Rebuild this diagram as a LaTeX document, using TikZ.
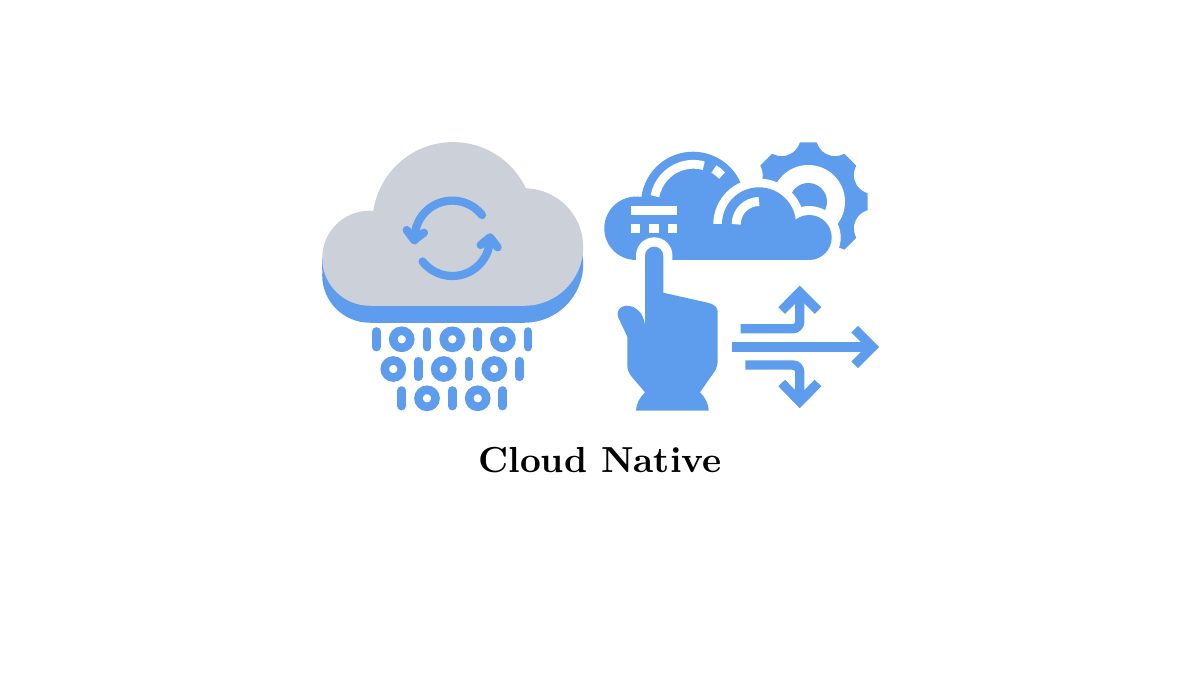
\documentclass[tikz,border=0pt]{standalone}
\usepackage{tikz}
\usetikzlibrary{arrows.meta}
\definecolor{iconblue}{RGB}{94,157,238}
\definecolor{cloudgray}{RGB}{204,208,217}
\tikzset{
    % round bits of the binary rain and the sync arrows
    bitbar/.style={
        line width=8.6pt,
        iconblue,
        line cap=round
    },
    bitring/.style={
        line width=8.6pt,
        iconblue
    },
    syncline/.style={
        line width=8.2pt,
        iconblue,
        line cap=round,
        line join=round
    },
    % flow arrows next to the hand
    flowline/.style={
        line width=9.4pt,
        iconblue,
        rounded corners=7pt
    },
    flowhead/.style={
        line width=9.4pt,
        iconblue,
        line join=miter
    },
    cutline/.style={
        line width=8.8pt,
        white
    }
}
\begin{document}
\begin{tikzpicture}[x=1pt,y=-1pt]
   \useasboundingbox (0,0) rectangle (1200,675);
   \fill[white] (0,0) rectangle (1200,675);
   % left cloud, blue edge first
   \fill[iconblue] (369.7,275.2) circle (47.5);
   \fill[iconblue] (524.5,264) circle (58.7);
   \fill[iconblue] (322.2,258.2) rectangle (583.2,270);
   \fill[iconblue] (369.7,270) rectangle (524.5,322.7);
   \fill[cloudgray] (369.7,258.2) circle (47.5);
   \fill[cloudgray] (524.5,247) circle (58.7);
   \fill[cloudgray] (453,222.6) circle (80.5);
   \fill[cloudgray] (369.7,230) rectangle (524.5,305.7);
   % sync arrows
   \draw[syncline] (452.3,238.3) ++(-38:37.7) arc (-38:-183:37.7);
   \draw[syncline] (406.7,230) -- (414,240) -- (424,232.7);
   \draw[syncline] (452.3,238.3) ++(-218:37.7) arc (-218:-360:37.7);
   \draw[syncline] (480.7,245) -- (490,237.3) -- (497.7,247.3);
   % binary rain
   \foreach \x in {376.3,427,477.6,528}
      \draw[bitbar] (\x,331.5) -- (\x,347.1);
   \foreach \x in {401.7,452.3,502.9}
      \draw[bitring] (\x,339.3) circle (8.5);
   \foreach \x in {418.3,469,519.7}
      \draw[bitbar] (\x,361.2) -- (\x,376.8);
   \foreach \x in {393.3,443.7,494.3}
      \draw[bitring] (\x,369) circle (8.5);
   \foreach \x in {401.7,452.3,502.7}
      \draw[bitbar] (\x,390.5) -- (\x,406.1);
   \foreach \x in {427,477.7}
      \draw[bitring] (\x,398.3) circle (8.5);
   % gear behind the clouds
   \begin{scope}[shift={(808.3,201.7)}]
      \fill[iconblue] (-8:60)
         \foreach \a in {0,45,...,315}{
            -- (\a-8:60) -- (\a+8:60)
            .. controls (\a+13:52) and (\a+18:51) .. (\a+22.5:51)
            .. controls (\a+27:51) and (\a+32:52) .. (\a+37:60)
         } -- cycle;
      \fill[white] (0,0) circle (36.7);
      \fill[iconblue] (0,0) circle (18.7);
   \end{scope}
   % back cloud
   \fill[iconblue] (636,228.3) circle (31.7);
   \fill[iconblue] (693,203.7) circle (52);
   \fill[iconblue] (636,215) rectangle (760,260);
   % white gap round the front cloud
   \fill[white] (713.3,224.3) arc (-180:0:45.7) -- cycle;
   \fill[white] (809.2,237.5) circle (31.5);
   \fill[white] (759,224.3) rectangle (809.2,269);
   % front cloud
   \fill[iconblue] (722,224.3) arc (-180:0:37) -- cycle;
   \fill[iconblue] (809.2,237.5) circle (22.5);
   \fill[iconblue] (713.3,224.3) rectangle (809.2,260);
   % white marks on the clouds
   \draw[cutline,line width=9pt] (759,224.3) ++(-180:22.8) arc (-180:-90:22.8);
   \draw[cutline] (693.3,203.3) ++(-169.5:39) arc (-169.5:-74.5:39);
   \draw[cutline] (693.3,203.3) ++(-59:40) arc (-59:-44:40);
   \fill[white] (631,206) rectangle (677,215);
   \foreach \x in {631,649.3,667.7}
      \fill[white] (\x,224) rectangle (\x+9.3,233);
   \fill[white] (636,260) -- (636,255.5) arc (-180:0:18.2) -- (672.4,260) -- cycle;
   % hand
   \fill[iconblue] (645,255.8) arc (-180:0:9.15) -- (663.3,292.7) -- (708,302.8)
      .. controls (714,304.2) and (717.7,307) .. (717.7,312) -- (717.7,360)
      .. controls (717.7,366) and (716,370) .. (713.3,373.3) -- (700,392.3)
      .. controls (705,397) and (708.7,404) .. (708.7,410.7) -- (636,410.7)
      .. controls (636,404) and (640,397) .. (645,392.3) -- (631.7,376.7)
      .. controls (628.7,373) and (627.3,369.5) .. (627.3,365) -- (627.3,336.7)
      -- (618.5,318) .. controls (615.5,311) and (620,305.7) .. (626.7,305.7)
      .. controls (636,305.7) and (644.5,314) .. (645,326) -- cycle;
   % flow arrows
   \draw[flowline] (732,347) -- (872,347);
   \draw[flowhead] (854.7,329.2) -- (872.5,347) -- (854.7,364.8);
   \draw[flowline] (740.7,328.7) -- (799.7,328.7) -- (799.7,293);
   \draw[flowhead] (781.7,310.5) -- (799.7,292.3) -- (818,310.5);
   \draw[flowline] (745.3,365) -- (799.7,365) -- (799.7,401);
   \draw[flowhead] (781.7,383) -- (799.7,401.5) -- (818,383);
   % title
   \node[inner sep=0pt,scale=3.62,anchor=base,font=\bfseries] (title) at (600,472) {Cloud Native};
\end{tikzpicture}
\end{document}
